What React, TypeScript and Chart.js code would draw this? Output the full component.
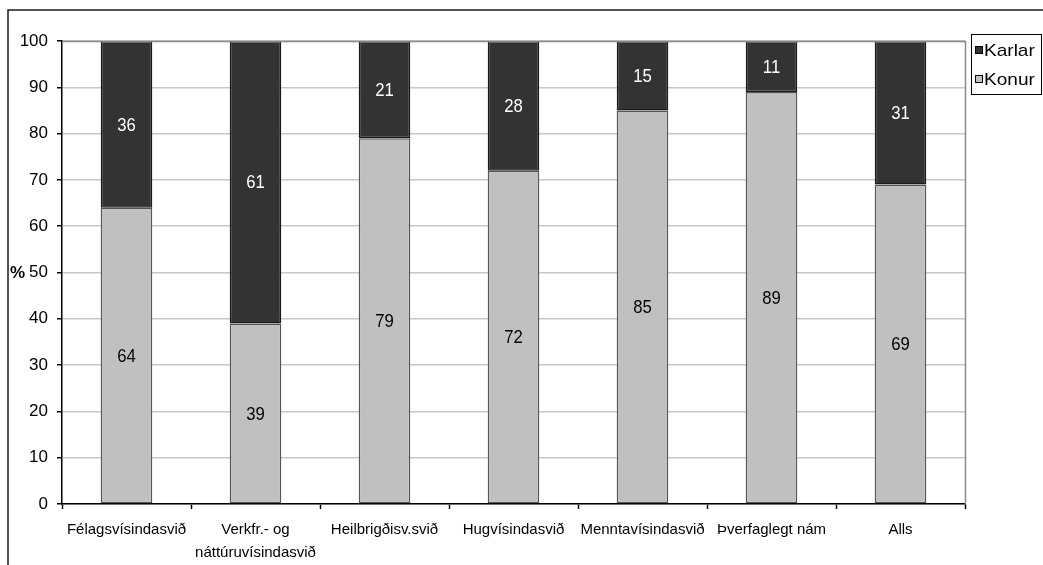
import React, { useEffect, useRef } from 'react';
import { Chart, registerables } from 'chart.js';

Chart.register(...registerables);

const categories: (string | string[])[] = [
  'Félagsvísindasvið',
  ['Verkfr.- og', 'náttúruvísindasvið'],
  'Heilbrigðisv.svið',
  'Hugvísindasvið',
  'Menntavísindasvið',
  'Þverfaglegt nám',
  'Alls',
];
const konur = [64, 39, 79, 72, 85, 89, 69];
const karlar = [36, 61, 21, 28, 15, 11, 31];
const seriesNames = ['Konur', 'Karlar'];
const yMin = 0;
const yMax = 100;
const yStep = 10;
const yTitle = '%';

const FONT = '"Liberation Sans", Arial, Helvetica, sans-serif';

const decorPlugin = {
  id: 'decor',
  beforeDraw(chart: any) {
    const ctx = chart.ctx;
    ctx.save();
    ctx.fillStyle = '#ffffff';
    ctx.fillRect(0, 0, chart.width, chart.height);
    ctx.restore();
  },
  afterDatasetsDraw(chart: any) {
    const ctx = chart.ctx;
    const area = chart.chartArea;
    ctx.save();
    // plot area top/right border
    ctx.strokeStyle = '#8a8a8a';
    ctx.lineWidth = 1.5;
    ctx.beginPath();
    ctx.moveTo(area.left, area.top + 0.5);
    ctx.lineTo(area.right + 0.5, area.top + 0.5);
    ctx.lineTo(area.right + 0.5, area.bottom);
    ctx.stroke();

    // data labels (slightly tall, condensed look)
    ctx.textAlign = 'center';
    ctx.textBaseline = 'middle';
    chart.data.datasets.forEach((ds: any, di: number) => {
      const meta = chart.getDatasetMeta(di);
      meta.data.forEach((el: any, i: number) => {
        const v = ds.data[i];
        const cy = (el.y + el.base) / 2;
        ctx.save();
        ctx.translate(el.x, cy + 1);
        ctx.scale(0.88, 1);
        ctx.font = '19px ' + FONT;
        ctx.fillStyle = di === 1 ? '#ffffff' : '#000000';
        ctx.fillText(String(v), 0, 0);
        ctx.restore();
      });
    });

    // y-axis title
    ctx.font = 'bold 17px ' + FONT;
    ctx.fillStyle = '#000';
    ctx.textAlign = 'left';
    ctx.textBaseline = 'middle';
    ctx.fillText(yTitle, 10, chart.scales.y.getPixelForValue(50) + 1);

    // outer border
    ctx.strokeStyle = '#1a1a1a';
    ctx.lineWidth = 1.5;
    ctx.beginPath();
    ctx.moveTo(8, chart.height);
    ctx.lineTo(8, 10);
    ctx.lineTo(chart.width, 10);
    ctx.stroke();

    // legend
    const lx = 971.5, ly = 34.5, lw = 70, lh = 60;
    ctx.fillStyle = '#fff';
    ctx.fillRect(lx, ly, lw, lh);
    ctx.strokeStyle = '#000';
    ctx.lineWidth = 1;
    ctx.strokeRect(lx, ly, lw, lh);
    const items = [
      { name: seriesNames[1], color: '#333333', y: 50 },
      { name: seriesNames[0], color: '#c0c0c0', y: 79 },
    ];
    items.forEach((it) => {
      ctx.fillStyle = it.color;
      ctx.fillRect(975.5, it.y - 3.5, 7, 7);
      ctx.strokeStyle = '#000';
      ctx.strokeRect(975.5, it.y - 3.5, 7, 7);
      ctx.save();
      ctx.translate(984, it.y + 1);
      ctx.scale(1.12, 1);
      ctx.font = '17px ' + FONT;
      ctx.fillStyle = '#000';
      ctx.textAlign = 'left';
      ctx.textBaseline = 'middle';
      ctx.fillText(it.name, 0, 0);
      ctx.restore();
    });
    ctx.restore();
  },
};

export default function App() {
  const ref = useRef<HTMLCanvasElement | null>(null);
  useEffect(() => {
    if (!ref.current) return;
    const chart = new Chart(ref.current, {
      type: 'bar',
      data: {
        labels: categories,
        datasets: [
          {
            label: seriesNames[0],
            data: konur,
            backgroundColor: '#c0c0c0',
            borderColor: '#555555',
            borderWidth: 1.5,
            borderSkipped: false,
          },
          {
            label: seriesNames[1],
            data: karlar,
            backgroundColor: '#333333',
            borderColor: '#1a1a1a',
            borderWidth: 1.5,
            borderSkipped: false,
          },
        ],
      },
      options: {
        responsive: false,
        animation: false,
        devicePixelRatio: 1,
        layout: { padding: { left: 0, right: 78, top: 41, bottom: 0 } },
        datasets: { bar: { categoryPercentage: 1, barPercentage: 0.4 } },
        plugins: {
          legend: { display: false },
          tooltip: { enabled: false },
          title: { display: false },
        },
        scales: {
          x: {
            stacked: true,
            offset: true,
            grid: {
              display: true,
              offset: true,
              drawOnChartArea: false,
              tickLength: 5,
              tickColor: '#000',
              tickWidth: 1.5,
            },
            border: { display: true, color: '#000', width: 1.5 },
            ticks: {
              color: '#000',
              font: { family: FONT, size: 15, lineHeight: 1.55 },
              padding: 9,
              maxRotation: 0,
              autoSkip: false,
            },
            afterFit(scale: any) {
              scale.height = 61;
            },
          },
          y: {
            stacked: true,
            min: yMin,
            max: yMax,
            grid: {
              color: '#c8c8c8',
              lineWidth: 1.5,
              tickLength: 5,
              tickColor: '#000',
              tickWidth: 1.5,
            },
            border: { display: true, color: '#000', width: 1.5 },
            ticks: {
              stepSize: yStep,
              color: '#000',
              font: { family: FONT, size: 17 },
              padding: 9,
            },
            afterFit(scale: any) {
              scale.width = 62;
            },
          },
        },
      },
      plugins: [decorPlugin],
    } as any);
    return () => chart.destroy();
  }, []);
  return (
    <div style={{ position: 'fixed', left: 0, top: 0, width: 1043, height: 565, background: '#fff' }}>
      <canvas ref={ref} width={1043} height={565} style={{ display: 'block' }} />
    </div>
  );
}
